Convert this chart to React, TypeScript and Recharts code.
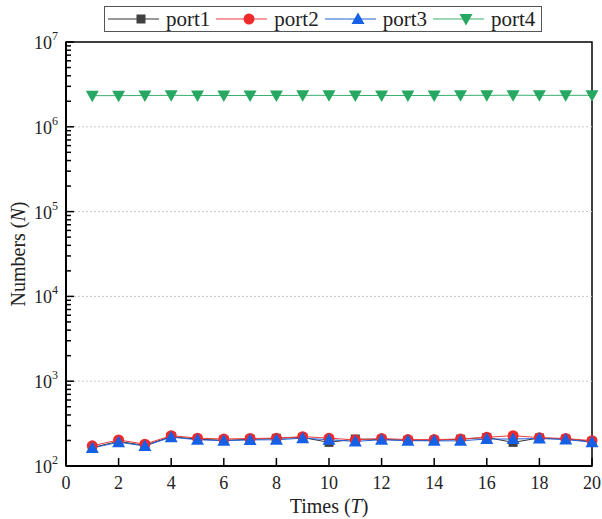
import React from "react";
import {
  LineChart,
  Line,
  XAxis,
  YAxis,
  Legend,
  ReferenceLine,
  ReferenceArea,
} from "recharts";

const times = [1, 2, 3, 4, 5, 6, 7, 8, 9, 10, 11, 12, 13, 14, 15, 16, 17, 18, 19, 20];
const port1 = [165, 195, 175, 222, 207, 201, 206, 212, 217, 190, 208, 206, 201, 201, 207, 217, 190, 214, 208, 195];
const port2 = [173, 203, 181, 228, 213, 208, 211, 213, 222, 213, 203, 211, 205, 205, 208, 218, 228, 216, 211, 199];
const port3 = [163, 191, 172, 219, 204, 199, 203, 204, 213, 204, 195, 204, 199, 198, 198, 208, 208, 211, 205, 191];
const port4 = [2.33e6, 2.33e6, 2.34e6, 2.35e6, 2.34e6, 2.34e6, 2.34e6, 2.34e6, 2.35e6, 2.35e6, 2.34e6, 2.34e6, 2.34e6, 2.34e6, 2.35e6, 2.35e6, 2.36e6, 2.35e6, 2.35e6, 2.35e6];

const xTicks = [0, 2, 4, 6, 8, 10, 12, 14, 16, 18, 20];
const decades = [2, 3, 4, 5, 6, 7];
const gridDecades = [1e3, 1e4, 1e5, 1e6];

const data = times.map((t, i) => ({
  t,
  port1: port1[i],
  port2: port2[i],
  port3: port3[i],
  port4: port4[i],
}));

const yTicks: number[] = [];
decades.forEach((d) => {
  yTicks.push(Math.pow(10, d));
  if (d < 7) for (let k = 2; k <= 9; k++) yTicks.push(k * Math.pow(10, d));
});

const FONT = "'Times New Roman', Times, 'Liberation Serif', 'DejaVu Serif', serif";

const series = [
  { key: "port1", line: "#333333", fill: "#404040", shape: "square" },
  { key: "port2", line: "#f03c3c", fill: "#f02a2a", shape: "circle" },
  { key: "port3", line: "#2060d8", fill: "#1660e6", shape: "up" },
  { key: "port4", line: "#3aae6e", fill: "#27a862", shape: "down" },
];

function Marker({ cx, cy, shape, fill }: any) {
  if (cx == null || cy == null) return null;
  if (shape === "square") return <rect x={cx - 4.5} y={cy - 4.5} width={9} height={9} fill={fill} />;
  if (shape === "circle") return <circle cx={cx} cy={cy} r={5.5} fill={fill} />;
  if (shape === "up")
    return <polygon points={`${cx},${cy - 6.5} ${cx - 6.5},${cy + 5} ${cx + 6.5},${cy + 5}`} fill={fill} />;
  return <polygon points={`${cx},${cy + 6.5} ${cx - 6.5},${cy - 5} ${cx + 6.5},${cy - 5}`} fill={fill} />;
}

function YTick({ x, y, payload }: any) {
  const v = payload.value;
  const exp = Math.log10(v);
  const major = Math.abs(exp - Math.round(exp)) < 1e-9;
  return (
    <g>
      <line x1={x} x2={x + (major ? 8 : 5)} y1={y} y2={y} stroke="#000" strokeWidth={1.5} />
      {major && (
        <text x={x - 8} y={y + 7} textAnchor="end" style={{ fontFamily: FONT }} fontSize={18} fill="#222">
          <tspan>10</tspan>
          <tspan dy={-9} fontSize={12}>{Math.round(exp)}</tspan>
        </text>
      )}
    </g>
  );
}

function XTick({ x, y, payload }: any) {
  return (
    <g>
      <line x1={x} x2={x} y1={y} y2={y - 8} stroke="#000" strokeWidth={1.5} />
      <text x={x} y={y + 23} textAnchor="middle" style={{ fontFamily: FONT }} fontSize={18} fill="#222">
        {payload.value}
      </text>
    </g>
  );
}

function XTitle({ viewBox }: any) {
  const cx = viewBox.x + viewBox.width / 2;
  return (
    <text x={cx} y={viewBox.y + 47} textAnchor="middle" style={{ fontFamily: FONT }} fontSize={20} fill="#222">
      Times (<tspan fontStyle="italic">T</tspan>)
    </text>
  );
}

function YTitle({ viewBox }: any) {
  const cy = viewBox.y + viewBox.height / 2;
  return (
    <text
      x={25}
      y={cy}
      transform={`rotate(-90, 25, ${cy})`}
      textAnchor="middle"
      style={{ fontFamily: FONT }}
      fontSize={20}
      fill="#222"
    >
      Numbers (<tspan fontStyle="italic">N</tspan>)
    </text>
  );
}

function LegendBox() {
  return (
    <div
      style={{
        boxSizing: "border-box",
        height: 26,
        width: 438,
        border: "1px solid #555",
        display: "flex",
        alignItems: "center",
        fontFamily: FONT,
        fontSize: 21,
        color: "#222",
        paddingLeft: 3,
        background: "#fff",
      }}
    >
      {series.map((s) => (
        <span key={s.key} style={{ display: "flex", alignItems: "center", marginRight: 6 }}>
          <svg width={51} height={20}>
            <line x1={0} x2={51} y1={10} y2={10} stroke={s.line} strokeWidth={1} />
            <Marker cx={33} cy={10} shape={s.shape} fill={s.fill} />
          </svg>
          <span style={{ marginLeft: 7, lineHeight: "22px" }}>{s.key}</span>
        </span>
      ))}
    </div>
  );
}

export default function App() {
  return (
    <div style={{ position: "absolute", left: 0, top: 0, background: "#fff" }}>
      <LineChart width={602} height={519} data={data} margin={{ top: 16, right: 10, left: 0, bottom: 0 }}>
        <Legend
          verticalAlign="top"
          content={() => <LegendBox />}
          wrapperStyle={{ top: 6, left: 104, width: 438, height: 26 }}
        />
        <XAxis
          dataKey="t"
          type="number"
          domain={[0, 20]}
          ticks={xTicks}
          interval={0}
          height={53}
          tickSize={0}
          tickMargin={0}
          tickLine={false}
          tick={<XTick />}
          axisLine={{ stroke: "#000", strokeWidth: 2 }}
          label={{ content: (p: any) => <XTitle {...p} /> }}
        />
        <YAxis
          type="number"
          scale="log"
          domain={[100, 1e7]}
          allowDataOverflow
          ticks={yTicks}
          interval={0}
          width={66}
          tickSize={0}
          tickMargin={0}
          tickLine={false}
          tick={<YTick />}
          axisLine={{ stroke: "#000", strokeWidth: 2 }}
          label={{ content: (p: any) => <YTitle {...p} /> }}
        />
        {gridDecades.map((g) => (
          <ReferenceLine key={g} y={g} stroke="#c8c8c8" strokeDasharray="2 2" strokeWidth={1} />
        ))}
        <ReferenceArea x1={0} x2={20} y1={100} y2={1e7} fill="none" stroke="#000" strokeWidth={1.5} />
        {series.map((s) => (
          <Line
            key={s.key}
            dataKey={s.key}
            stroke={s.line}
            strokeWidth={1}
            isAnimationActive={false}
            dot={(p: any) => <Marker key={p.index} cx={p.cx} cy={p.cy} shape={s.shape} fill={s.fill} />}
            activeDot={false}
          />
        ))}
      </LineChart>
    </div>
  );
}
